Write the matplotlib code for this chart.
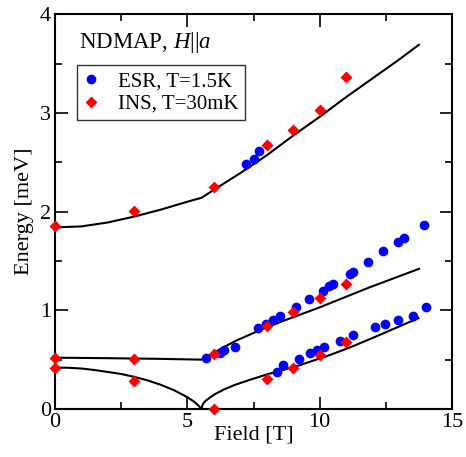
import numpy as np
import matplotlib
matplotlib.use("Agg")
import matplotlib.pyplot as plt
from matplotlib.ticker import MultipleLocator

plt.rcParams["font.family"] = ["Liberation Serif", "DejaVu Serif"]
plt.rcParams["mathtext.fontset"] = "custom"
plt.rcParams["mathtext.rm"] = "Liberation Serif"
plt.rcParams["mathtext.it"] = "Liberation Serif:italic"

# ESR, T=1.5K
esr_field = [7.22, 7.52, 7.72,
             5.70, 6.23, 6.38, 6.80, 7.66, 7.97, 8.25, 8.50, 9.10, 9.61,
             10.12, 10.37, 10.50, 11.14, 11.25, 11.84, 12.38, 12.97, 13.20, 13.94,
             8.37, 8.60, 9.23, 9.63, 9.89, 10.18, 10.78, 11.25, 12.09, 12.47,
             12.95, 13.51, 14.00]
esr_energy = [2.48, 2.53, 2.61,
              0.513, 0.57, 0.60, 0.625, 0.82, 0.86, 0.90, 0.94, 1.03, 1.11,
              1.20, 1.245, 1.27, 1.37, 1.39, 1.49, 1.60, 1.69, 1.735, 1.86,
              0.37, 0.445, 0.51, 0.57, 0.60, 0.625, 0.69, 0.745, 0.83, 0.86,
              0.905, 0.94, 1.03]

# INS, T=30mK
ins_field = [0, 3, 6, 8, 9, 10, 11,
             0, 3, 6, 8, 9, 10, 11,
             0, 3, 6, 8, 9, 10, 11]
ins_energy = [1.85, 2.01, 2.25, 2.67, 2.83, 3.03, 3.36,
              0.52, 0.51, 0.557, 0.84, 0.985, 1.12, 1.27,
              0.42, 0.28, 0.0, 0.30, 0.42, 0.547, 0.675]

# calculated branches
upper_h = [0, 1, 2, 3, 4, 5, 5.54, 6, 7, 8, 9, 10, 11, 12, 13, 13.75]
upper_e = [1.84, 1.85, 1.89, 1.95, 2.02, 2.10, 2.14, 2.22, 2.39, 2.57,
           2.77, 2.96, 3.16, 3.35, 3.54, 3.69]

middle_h = [0, 2, 4, 5.54, 5.7, 6.0, 6.4, 6.86, 7.5, 8, 9, 10, 11.86, 13.75]
middle_e = [0.52, 0.515, 0.508, 0.50, 0.525, 0.57, 0.63, 0.695, 0.77, 0.83,
            0.93, 1.03, 1.23, 1.42]

lower_h = [0, 0.5, 1, 1.5, 2, 2.5, 3, 3.5, 4, 4.5, 5, 5.25, 5.4, 5.5, 5.54,
           5.56, 5.6, 5.7, 5.85, 6.04, 6.4, 6.8, 7.3, 8, 8.6, 9.26, 10.39,
           11.2, 12.09, 12.95, 13.73]
lower_e = [0.42, 0.418, 0.41, 0.395, 0.375, 0.355, 0.325, 0.29, 0.245, 0.19,
           0.12, 0.075, 0.04, 0.012, 0.0,
           0.03, 0.055, 0.085, 0.115, 0.15, 0.2, 0.245, 0.29, 0.35, 0.395,
           0.445, 0.547, 0.63, 0.73, 0.83, 0.92]

fig = plt.figure(figsize=(4.66, 4.57), dpi=100)
ax = fig.add_axes([0.118, 0.105, 0.852, 0.864])

for h, e in [(upper_h, upper_e), (middle_h, middle_e), (lower_h, lower_e)]:
    ax.plot(h, e, color="black", lw=1.5, zorder=2)

ax.plot(esr_field, esr_energy, "o", color="#0000ff", ms=7, mec="none",
        label="ESR, T=1.5K", zorder=3)
ax.plot(ins_field, ins_energy, "D", color="#ff0000", ms=5.8, mec="none",
        label="INS, T=30mK", zorder=4, clip_on=False)

ax.set_xlim(0, 15)
ax.set_ylim(0, 4)
ax.xaxis.set_major_locator(MultipleLocator(5))
ax.xaxis.set_minor_locator(MultipleLocator(2.5))
ax.yaxis.set_major_locator(MultipleLocator(1))
ax.yaxis.set_minor_locator(MultipleLocator(0.5))
ax.tick_params(which="both", direction="in", top=True, right=True,
               labelsize=16, width=1.2, pad=3)
ax.tick_params(which="major", length=9)
ax.tick_params(which="minor", length=5)
for s in ax.spines.values():
    s.set_linewidth(1.5)

ax.set_xlabel("Field [T]", fontsize=16, labelpad=-4.5)
ax.set_ylabel("Energy [meV]", fontsize=16, labelpad=4)

ax.text(0.06, 0.915, r"NDMAP, $H$||$a$", transform=ax.transAxes,
        fontsize=16.5)

leg = ax.legend(loc="upper left", bbox_to_anchor=(0.055, 0.87), fontsize=15,
                frameon=True, fancybox=False, edgecolor="black",
                handlelength=0.8, handletextpad=0.9, borderpad=0.3,
                labelspacing=0.15, borderaxespad=0)
leg.get_frame().set_linewidth(1.0)

fig.savefig("out.png", dpi=100)
